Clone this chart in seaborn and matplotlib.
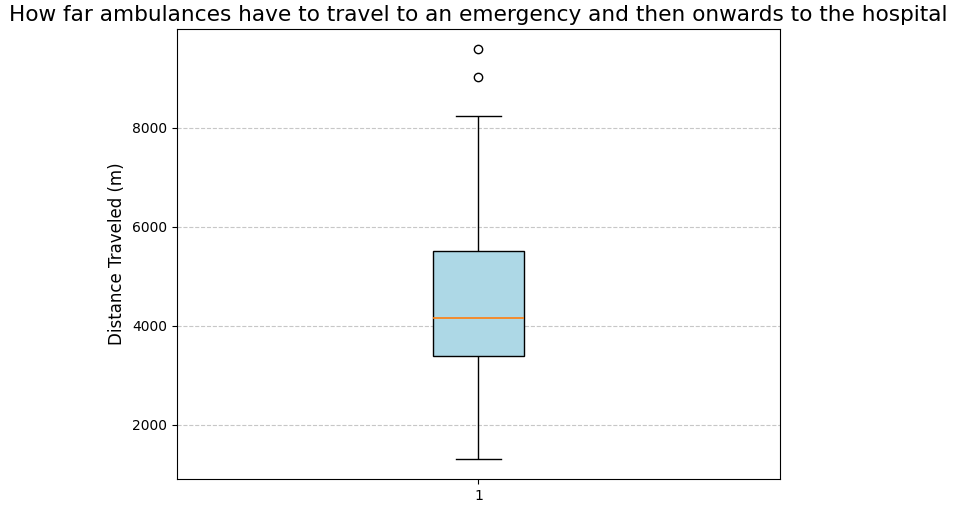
import numpy as np
import pandas as pd
import matplotlib
matplotlib.use("Agg")
import matplotlib.pyplot as plt
import seaborn as sns

# summary values (metres)
lower_whisker = 1313
q1 = 3394
median = 4152
q3 = 5515
upper_whisker = 8242
outliers = [9030, 9576]

# a small sample built only from those values, so the quartiles land exactly
distances = ([lower_whisker] + [q1] * 3 + [median] * 3 + [q3] * 3
             + [upper_whisker] + outliers)
group = ["1"] * len(distances)

df = pd.DataFrame({"group": group, "distance": distances})

fig = plt.figure(figsize=(9.56, 5.14), dpi=100)
ax = fig.add_axes([0.185, 0.068, 0.631, 0.8755])

sns.boxplot(
    data=df, x="group", y="distance", ax=ax,
    width=0.15, color="lightblue", saturation=1, linecolor="black", linewidth=1,
    whis=1.5,
    medianprops={"color": "#ff7f0e", "linewidth": 1.2},
    flierprops={"marker": "o", "markerfacecolor": "none",
                "markeredgecolor": "black", "markersize": 6},
)
ax.set_xlim(-0.5, 0.5)

ax.set_title("How far ambulances have to travel to an emergency and then onwards to the hospital",
             fontsize=15.6)
ax.set_ylabel("Distance Traveled (m)", fontsize=12)
ax.set_xlabel("")
ax.yaxis.grid(True, linestyle="--", alpha=0.7, color="#b0b0b0")
ax.set_axisbelow(True)

fig.savefig("out.png", dpi=100)
